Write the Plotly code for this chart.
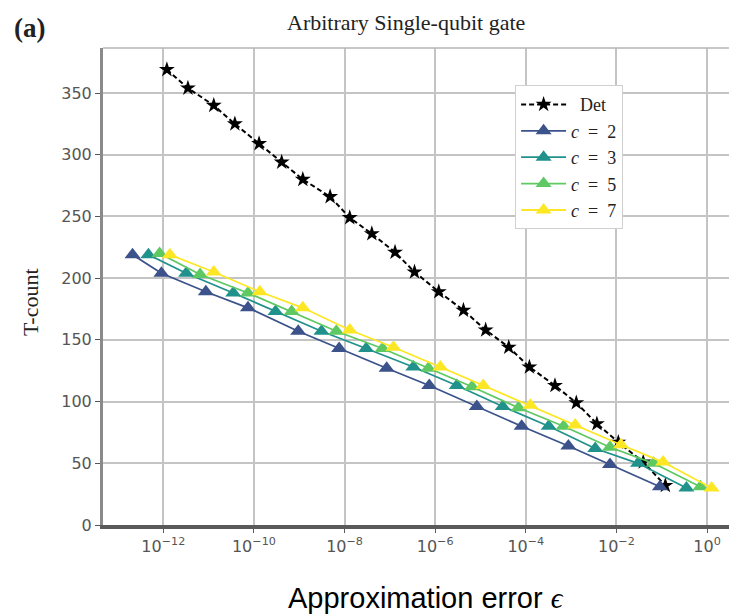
import plotly.graph_objects as go

# ---------------- data ----------------
det_eps = [1.2e-12, 3.5e-12, 1.3e-11, 3.8e-11, 1.3e-10, 4.1e-10, 1.2e-9, 4.8e-9,
           1.3e-8, 4.0e-8, 1.3e-7, 3.5e-7, 1.2e-6, 4.2e-6, 1.3e-5, 4.2e-5,
           1.2e-4, 4.4e-4, 1.3e-3, 3.7e-3, 1.1e-2, 3.9e-2, 1.2e-1]
det_t = [369, 354, 340, 325, 309, 294, 280, 266, 249, 236, 221, 205,
         189, 174, 158, 144, 128, 113, 99, 82, 67, 51, 32]

c2_eps = [2.1e-13, 9.1e-13, 8.7e-12, 7.4e-11, 9.5e-10, 7.6e-9, 8.5e-8,
          7.4e-7, 8.3e-6, 8.1e-5, 8.7e-4, 7.2e-3, 9.1e-2]
c2_t = [219, 204, 189, 176, 157, 143, 127, 113, 96, 80, 64, 49, 31]

c3_eps = [4.7e-13, 3.2e-12, 3.5e-11, 3.0e-10, 3.1e-9, 3.0e-8, 3.3e-7,
          3.0e-6, 3.1e-5, 3.2e-4, 3.4e-3, 3.0e-2, 3.5e-1]
c3_t = [219, 204, 188, 173, 157, 143, 128, 113, 96, 80, 62, 50, 30]

c5_eps = [8.3e-13, 6.5e-12, 7.4e-11, 6.8e-10, 6.6e-9, 6.9e-8, 7.1e-7,
          6.5e-6, 6.9e-5, 6.8e-4, 7.2e-3, 6.6e-2, 7.1e-1]
c5_t = [220, 203, 188, 173, 157, 143, 127, 112, 95, 80, 63, 50, 31]

c7_eps = [1.4e-12, 1.3e-11, 1.35e-10, 1.2e-9, 1.3e-8, 1.2e-7, 1.3e-6,
          1.15e-5, 1.26e-4, 1.23e-3, 1.26e-2, 1.07e-1, 1.26]
c7_t = [219, 205, 189, 176, 158, 144, 128, 113, 97, 81, 65, 51, 30]

x_tickvals = [1e-12, 1e-10, 1e-8, 1e-6, 1e-4, 1e-2, 1]
x_ticktext = ["10<sup>\u221212</sup>", "10<sup>\u221210</sup>", "10<sup>\u22128</sup>",
              "10<sup>\u22126</sup>", "10<sup>\u22124</sup>", "10<sup>\u22122</sup>",
              "10<sup>0</sup>"]
y_tickvals = [0, 50, 100, 150, 200, 250, 300, 350]

series = [
    ("<i>c</i>\u2002=\u20022", c2_eps, c2_t, "#3b528b"),
    ("<i>c</i>\u2002=\u20023", c3_eps, c3_t, "#21918c"),
    ("<i>c</i>\u2002=\u20025", c5_eps, c5_t, "#5ec962"),
    ("<i>c</i>\u2002=\u20027", c7_eps, c7_t, "#fde725"),
]

# ---------------- figure ----------------
fig = go.Figure()
fig.add_trace(go.Scatter(
    x=det_eps, y=det_t, name="\u2002Det", mode="lines+markers",
    line=dict(color="black", width=2, dash="5px,3px"),
    marker=dict(symbol="star", size=12, color="black"),
))
for name, xs, ys, col in series:
    fig.add_trace(go.Scatter(
        x=xs, y=ys, name=name, mode="lines+markers",
        line=dict(color=col, width=1.8),
        marker=dict(symbol="triangle-up", size=14, color=col),
    ))

serif = "Liberation Serif, Times New Roman, serif"

# the page body has an 8px margin, so the figure is 8px smaller than the window
fig.update_layout(
    width=729, height=607,
    margin=dict(l=95, r=0, t=40, b=90),
    paper_bgcolor="white", plot_bgcolor="white",
    showlegend=True,
    legend=dict(
        x=0.65, y=0.922, xanchor="left", yanchor="top",
        bgcolor="white", bordercolor="#d0d0d0", borderwidth=1,
        font=dict(family=serif, size=18, color="#222"),
        itemwidth=45, tracegroupgap=0,
    ),
    xaxis=dict(
        type="log", range=[-13.33, 0.66],
        tickvals=x_tickvals, ticktext=x_ticktext,
        showgrid=True, gridcolor="#c4c4c4", gridwidth=1.5,
        showline=True, linecolor="#5a5a5a", linewidth=4,
        ticks="outside", ticklen=4, tickcolor="#5a5a5a",
        tickfont=dict(family="DejaVu Sans", size=16, color="#555"),
        zeroline=False,
    ),
    yaxis=dict(
        range=[0, 386.5], tickvals=y_tickvals,
        showgrid=True, gridcolor="#c4c4c4", gridwidth=1.5,
        showline=True, linecolor="#8a8a8a", linewidth=3,
        ticks="outside", ticklen=5, tickcolor="#555",
        tickfont=dict(family="DejaVu Sans", size=16, color="#555"),
        zeroline=False,
    ),
    shapes=[dict(type="line", xref="paper", yref="paper", x0=0, x1=1, y0=1, y1=1,
                 line=dict(color="#b5b5b5", width=1.5))],
    annotations=[
        dict(text="Arbitrary Single-qubit gate", xref="paper", yref="paper",
             x=0.478, y=1.0545, xanchor="center", yanchor="middle", showarrow=False,
             font=dict(family=serif, size=22, color="#222")),
        dict(text="<b>(a)</b>", xref="paper", yref="paper",
             x=-0.1167, y=1.042, xanchor="center", yanchor="middle", showarrow=False,
             font=dict(family=serif, size=27, color="#222")),
        dict(text="T-count", xref="paper", yref="paper", textangle=-90,
             x=-0.115, y=0.4675, xanchor="center", yanchor="middle", showarrow=False,
             font=dict(family=serif, size=22, color="#222")),
        dict(text="Approximation error <span style='font-family:Liberation Serif'><i>\u03f5</i></span>",
             xref="paper", yref="paper",
             x=0.51, y=-0.153, xanchor="center", yanchor="middle", showarrow=False,
             font=dict(family="Liberation Sans, Arial, sans-serif", size=29, color="black")),
    ],
)

fig.write_html("out.html")
